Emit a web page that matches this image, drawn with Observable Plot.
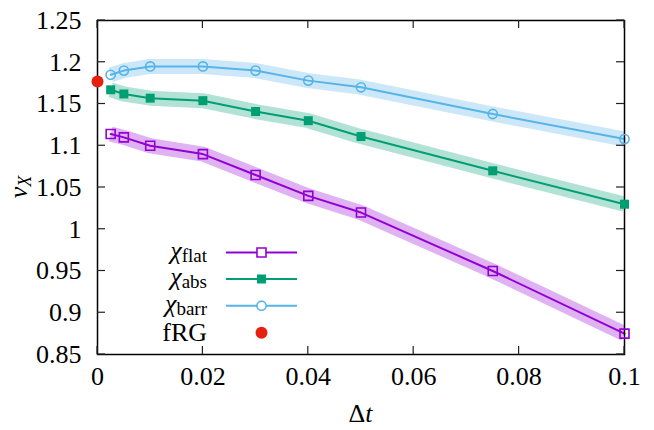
<!DOCTYPE html>
<html><head><meta charset="utf-8">
<script src="https://cdn.jsdelivr.net/npm/d3@7"></script>
<script src="https://cdn.jsdelivr.net/npm/@observablehq/plot@0.6"></script>
<style>
body{margin:0;background:#fff;} svg{display:block;}
svg text, svg tspan { font-family: "Liberation Serif", "DejaVu Serif", serif !important; }
</style>
</head><body><div id="chart"></div>
<script>
// ---- data ----
const dt = [0.0025, 0.005, 0.01, 0.02, 0.03, 0.04, 0.05, 0.075, 0.1];
const chiFlat = [1.114, 1.110, 1.100, 1.090, 1.065, 1.040, 1.020, 0.950, 0.875];
const chiAbs  = [1.167, 1.162, 1.157, 1.154, 1.141, 1.130, 1.111, 1.070, 1.030];
const chiBarr = [1.185, 1.190, 1.195, 1.195, 1.190, 1.178, 1.170, 1.138, 1.108];
const fRGdt = [0];
const fRGnu = [1.177];
const seriesNames = ["flat", "abs", "barr"];
const seriesColors = ["#9400d3", "#009e73", "#56b4e9"];
const fRGColor = "#e5200f";
const xTicks = [0, 0.02, 0.04, 0.06, 0.08, 0.1];
const xTickLabels = ["0", "0.02", "0.04", "0.06", "0.08", "0.1"];
const yTicks = [0.85, 0.9, 0.95, 1, 1.05, 1.1, 1.15, 1.2, 1.25];
const yTickLabels = ["0.85", "0.9", "0.95", "1", "1.05", "1.1", "1.15", "1.2", "1.25"];

const FONT = "Liberation Serif";
const FS = 26;
const seriesVals = [chiFlat, chiAbs, chiBarr];
const rows = [];
seriesNames.forEach((s, k) => dt.forEach((d, i) => rows.push({s, dt: d, nu: seriesVals[k][i]})));
const bySeries = k => rows.filter(r => r.s === seriesNames[k]);
const fRG = fRGdt.map((d, i) => ({dt: d, nu: fRGnu[i]}));
const xLab = new Map(xTicks.map((t, i) => [t, xTickLabels[i]]));
const yLab = new Map(yTicks.map((t, i) => [t, yTickLabels[i]]));

const marks = [];
seriesNames.forEach((s, k) => marks.push(Plot.line(bySeries(k), {x: "dt", y: "nu", stroke: seriesColors[k], strokeOpacity: 0.3, strokeWidth: 15, strokeLinecap: "butt", strokeLinejoin: "round", clip: true})));
seriesNames.forEach((s, k) => marks.push(Plot.line(bySeries(k), {x: "dt", y: "nu", stroke: seriesColors[k], strokeWidth: 2})));
marks.push(Plot.axisX({ticks: xTicks, tickFormat: d => xLab.get(d), tickSize: 0, tickPadding: 12, fontSize: FS, fontFamily: FONT, label: null}));
marks.push(Plot.axisY({ticks: yTicks, tickFormat: d => yLab.get(d), tickSize: 0, tickPadding: 16, fontSize: FS, fontFamily: FONT, label: null}));
marks.push(Plot.frame({stroke: "#000", strokeWidth: 1.5}));
marks.push(Plot.dot(bySeries(0), {x: "dt", y: "nu", symbol: "square", r: 5.07, stroke: seriesColors[0], strokeWidth: 1.6, fill: "none"}));
marks.push(Plot.dot(bySeries(1), {x: "dt", y: "nu", symbol: "square", r: 5.07, fill: seriesColors[1], stroke: "none"}));
marks.push(Plot.dot(bySeries(2), {x: "dt", y: "nu", symbol: "circle", r: 4.6, stroke: seriesColors[2], strokeWidth: 1.6, fill: "none"}));
marks.push(Plot.dot(fRG, {x: "dt", y: "nu", r: 6, fill: fRGColor, stroke: "none"}));

const plot = Plot.plot({
  width: 654, height: 430,
  marginLeft: 97, marginRight: 30, marginTop: 20, marginBottom: 76,
  style: {fontFamily: FONT, background: "#fff", color: "#000"},
  x: {domain: [0, 0.1], ticks: xTicks},
  y: {domain: [0.85, 1.25], ticks: yTicks},
  marks
});
document.getElementById("chart").appendChild(plot);

const xs = plot.scale("x"), ys = plot.scale("y");
const [L, R] = xs.range, [B, T] = ys.range;
const svg = d3.select(plot);
const g = svg.append("g").attr("stroke", "#222").attr("stroke-width", 1.2);
const TL = 8;
xTicks.forEach(t => {
  const x = xs.apply(t);
  g.append("line").attr("x1", x).attr("x2", x).attr("y1", B).attr("y2", B - TL);
  g.append("line").attr("x1", x).attr("x2", x).attr("y1", T).attr("y2", T + TL);
});
yTicks.forEach(t => {
  const y = ys.apply(t);
  g.append("line").attr("x1", L).attr("x2", L + TL).attr("y1", y).attr("y2", y);
  g.append("line").attr("x1", R).attr("x2", R - TL).attr("y1", y).attr("y2", y);
});

const xl = svg.append("text").attr("x", (L + R) / 2).attr("y", 422).attr("text-anchor", "middle")
  .attr("font-size", FS).attr("fill", "#000");
xl.append("tspan").text("Δ");
xl.append("tspan").attr("font-style", "italic").text("t");

const cy = (T + B) / 2;
const yl = svg.append("text").attr("transform", `translate(27,${cy}) rotate(-90)`).attr("text-anchor", "middle")
  .attr("font-size", FS).attr("fill", "#000");
yl.append("tspan").attr("font-style", "italic").text("ν");
yl.append("tspan").attr("font-style", "italic").attr("font-size", 18).attr("dy", 4).text("X");

const legY = [252.5, 279, 305.7, 332.7];
const legTextX = 207, legL = 226, legR = 297, legM = 261.5;
const lg = svg.append("g").attr("fill", "#000");
seriesNames.forEach((s, k) => {
  const y = legY[k];
  const t = lg.append("text").attr("x", legTextX).attr("y", y + 6).attr("text-anchor", "end").attr("font-size", FS);
  t.append("tspan").attr("font-style", "italic").text("χ");
  t.append("tspan").attr("font-size", 19).attr("dy", 3).text(s);
  lg.append("line").attr("x1", legL).attr("x2", legR).attr("y1", y).attr("y2", y)
    .attr("stroke", seriesColors[k]).attr("stroke-width", 2);
});
lg.append("path").attr("transform", `translate(${legM},${legY[0]})`).attr("d", d3.symbol(d3.symbolSquare, 81)())
  .attr("fill", "white").attr("stroke", seriesColors[0]).attr("stroke-width", 1.6);
lg.append("path").attr("transform", `translate(${legM},${legY[1]})`).attr("d", d3.symbol(d3.symbolSquare, 81)())
  .attr("fill", seriesColors[1]);
lg.append("circle").attr("cx", legM).attr("cy", legY[2]).attr("r", 4.6)
  .attr("fill", "white").attr("stroke", seriesColors[2]).attr("stroke-width", 1.6);
lg.append("text").attr("x", legTextX).attr("y", legY[3] + 8.5).attr("text-anchor", "end").attr("font-size", FS).text("fRG");
lg.append("circle").attr("cx", legM).attr("cy", legY[3]).attr("r", 6).attr("fill", fRGColor);
</script>
</body></html>
